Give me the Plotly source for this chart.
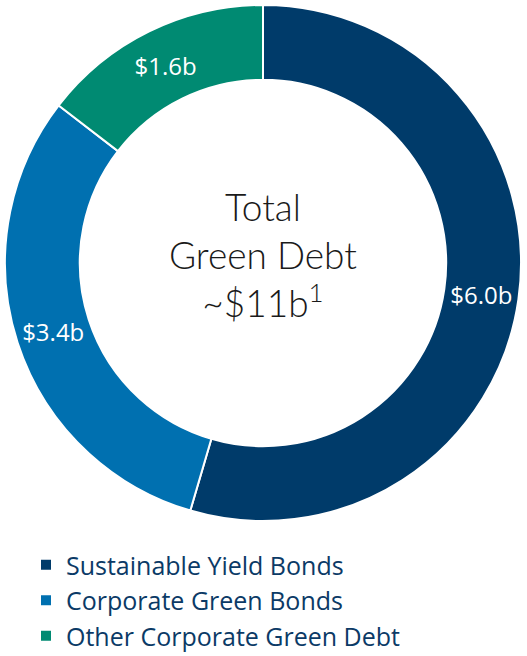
import plotly.graph_objects as go

categories = ["Sustainable Yield Bonds", "Corporate Green Bonds", "Other Corporate Green Debt"]
values = [6.0, 3.4, 1.6]
value_labels = ["$6.0b", "$3.4b", "$1.6b"]
colors = ["#003B6A", "#0070B0", "#008A72"]
center_text = "Total<br>Green Debt<br>~$11b<sup>1</sup>"

W, H = 527, 656
fig = go.Figure(go.Pie(
    labels=categories,
    values=values,
    text=value_labels,
    textinfo="text",
    textposition="inside",
    insidetextorientation="horizontal",
    textfont=dict(color="white", size=24, family="Open Sans"),
    marker=dict(colors=colors, line=dict(color="white", width=2)),
    hole=0.71,
    sort=False,
    direction="clockwise",
    rotation=0,
    domain=dict(x=[5 / W, 521 / W], y=[1 - 521 / H, 1 - 5 / H]),
    hoverinfo="skip",
))

fig.add_annotation(
    x=263 / W, y=1 - 255 / H, xref="paper", yref="paper",
    text=center_text, showarrow=False,
    font=dict(size=37, color="#1a1a1a", family="Lato", weight=300),
    align="center",
)

fig.update_layout(
    width=W, height=H,
    margin=dict(l=0, r=0, t=0, b=0, autoexpand=False),
    paper_bgcolor="white",
    plot_bgcolor="white",
    showlegend=True,
    legend=dict(
        x=26 / W, y=1 - 542 / H, xanchor="left", yanchor="top",
        font=dict(size=25, color="#0B3A66", family="Open Sans"),
        bgcolor="rgba(0,0,0,0)",
    ),
)

fig.write_html("out.html", config={"displayModeBar": False},
               post_script="document.body.style.margin='0';")
